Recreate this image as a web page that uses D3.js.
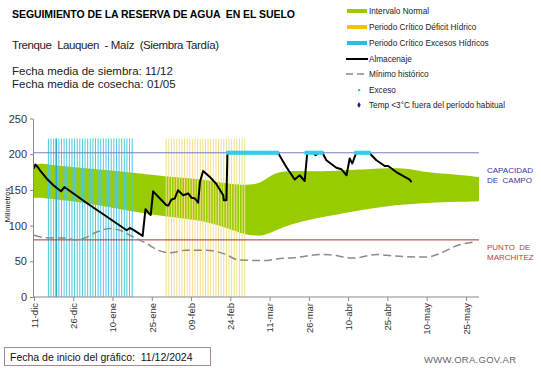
<!DOCTYPE html>
<html><head><meta charset="utf-8">
<script src="https://cdn.jsdelivr.net/npm/d3@7"></script>
<style>body{margin:0;background:#fff}svg{display:block}text{font-family:Arial,"Liberation Sans",sans-serif}</style>
</head><body>
<script>
// ---- data (day offsets from 11-dic-2024) ----
const tickDays = [0,15,30,45,60,75,90,105,120,135,150,165];
const tickLabels = ["11-dic","26-dic","10-ene","25-ene","09-feb","24-feb","11-mar","26-mar","10-abr","25-abr","10-may","25-may"];
const yTicks = [0,50,100,150,200,250];

const bandDays  = [0,2,5,12,25,38,50,63,70,76,80,85,88,92,99,106,112,124,137,143,150,162,170];
const bandUpper = [184,187,186,183,178.5,174,168.7,165.5,161,158,157,158,163,175,177,176,176,178.5,181,180,174,171.5,168];
const bandLower = [139,139,138,135.5,128.5,119,113,107.5,101,93.5,88,85.5,86,93,103,109,113,121.5,128.5,130,131.7,133.5,134];

const excessPeriodDays = d3.range(5.5, 38, 1);   // Periodo Crítico Excesos Hídricos
const deficitPeriodDays = d3.range(50.5, 81, 1); // Periodo Crítico Déficit Hídrico
const periodTop = 222;

const almDays = [0,0.5,1,2.3,4.8,7.4,10.3,11.6,20,28,35.4,36.6,38,41.5,42.6,43.9,44.6,45.5,50.6,51.3,52.5,53.8,55,57,58.9,60.2,61.5,62.7,63.4,64.6,67.2,69.7,72.3,72.5,73.5,73.9,93.2,96.4,99.6,101.5,103.4,104.4,106.6,107.6,108.9,110.2,111.7,115.5,117.4,119.4,120.6,121.6,123.1,128,130.8,134,135.3,138.4,143.5,144.2];
const almValues = [180,185.5,184,177.5,166,156.5,148,154,132,112,93.5,96.7,94,85.5,123,117,115,148,128.5,128,136.5,138,149.5,142.5,145,139,138,132,161,176.5,168,158,142.5,135.5,135.5,202,202,182,164.5,170.5,162.5,202,202,198.5,202,202,191.5,181,179,170.5,194,187,202,202,191.5,183.5,183.5,175,164.5,161];

const minDays = [0,4.8,12,16,18.8,24,29,32.8,37.9,43,47.4,52,58,66,73,78,88,94,99,110,113,122,131,137,150,154,162,168];
const minValues = [86.5,83,82.5,80,81.8,91,95.8,93.5,84,75,65.5,62,65.5,65.5,60,52,51,54,55,59.5,59,54.5,59.5,57.5,56,59.5,72.5,77];

const excesoDays = [].concat(d3.range(74,94), d3.range(104,108), d3.range(108,111), d3.range(123,129));
const capacidad = 202;
const marchitez = 80;

// ---- chart ----
const W = 541, H = 368;
const svg = d3.select("body").append("svg").attr("width", W).attr("height", H);
const x = d3.scaleLinear().domain([0,170]).range([34,479]);
const y = d3.scaleLinear().domain([0,250]).range([297,118.5]);

// titles
svg.append("text").attr("x",12).attr("y",18).attr("font-size",10.5).attr("font-weight","bold")
  .attr("xml:space","preserve").attr("textLength",283).text("SEGUIMIENTO DE LA RESERVA DE AGUA  EN EL SUELO");
svg.append("text").attr("x",12).attr("y",49).attr("font-size",11.5).attr("fill","#222")
  .attr("xml:space","preserve").attr("textLength",207).text("Trenque  Lauquen  - Maíz  (Siembra Tardía)");
svg.append("text").attr("x",12).attr("y",75).attr("font-size",11.5).attr("fill","#222").text("Fecha media de siembra: 11/12");
svg.append("text").attr("x",12).attr("y",88).attr("font-size",11.5).attr("fill","#222").text("Fecha media de cosecha: 01/05");

// green band
const area = d3.area().x((d,i)=>x(bandDays[i])).y0((d,i)=>y(bandLower[i])).y1((d,i)=>y(bandUpper[i])).curve(d3.curveBasis);
svg.append("path").datum(bandDays).attr("d",area).attr("fill","#99CC00");

// period lines
svg.append("g").selectAll("line").data(excessPeriodDays).join("line")
  .attr("x1",d=>x(d)).attr("x2",d=>x(d)).attr("y1",y(0)).attr("y2",y(periodTop))
  .attr("stroke","#4EC9E0").attr("stroke-width",1);
svg.append("line").attr("x1",x(8.5)).attr("x2",x(8.5)).attr("y1",y(0)).attr("y2",y(periodTop))
  .attr("stroke","#2AAFD0").attr("stroke-width",1.5);
svg.append("g").selectAll("line").data(deficitPeriodDays).join("line")
  .attr("x1",d=>x(d)).attr("x2",d=>x(d)).attr("y1",y(0)).attr("y2",y(periodTop))
  .attr("stroke","#F3E08C").attr("stroke-width",1);

// reference lines
svg.append("line").attr("x1",x(0)-1).attr("x2",x(170)).attr("y1",y(capacidad)).attr("y2",y(capacidad))
  .attr("stroke","#7080C0").attr("stroke-width",1);
svg.append("line").attr("x1",x(0)-1).attr("x2",x(170)).attr("y1",y(marchitez)).attr("y2",y(marchitez))
  .attr("stroke","#B03030").attr("stroke-width",1);

// minimo historico
const line = d3.line().x(d=>x(d[0])).y(d=>y(d[1]));
svg.append("path").datum(minDays.map((d,i)=>[d,minValues[i]])).attr("d",line.curve(d3.curveMonotoneX))
  .attr("fill","none").attr("stroke","#8a8a8a").attr("stroke-width",1.5).attr("stroke-dasharray","8,4");

// almacenaje
svg.append("path").datum(almDays.map((d,i)=>[d,almValues[i]])).attr("d",d3.line().x(d=>x(d[0])).y(d=>y(d[1])))
  .attr("fill","none").attr("stroke","#000").attr("stroke-width",2).attr("stroke-linejoin","round");

// exceso markers
svg.append("g").selectAll("rect").data(excesoDays).join("rect")
  .attr("x",d=>x(d)-1.7).attr("y",y(capacidad)-2).attr("width",3.4).attr("height",4)
  .attr("fill","#33CCEE");

// axes
const gx = svg.append("g").attr("transform",`translate(0,${y(0)})`)
  .call(d3.axisBottom(x).tickValues(tickDays).tickFormat((d,i)=>tickLabels[i]).tickSize(4).tickSizeOuter(0));
gx.select(".domain").attr("stroke","#888").attr("d",`M${x(0)-1},0H${x(170)}`);
gx.selectAll(".tick line").attr("stroke","#888");
gx.selectAll(".tick text").attr("font-size",9.5).attr("fill","#333")
  .attr("transform","rotate(-90)").attr("text-anchor","end").attr("dx","-6").attr("dy","0.35em").attr("y",0).attr("x",0)
  .attr("font-family","Arial,'Liberation Sans',sans-serif");
const gy = svg.append("g").attr("transform",`translate(${x(0)-1},0)`)
  .call(d3.axisLeft(y).tickValues(yTicks).tickSize(3).tickSizeOuter(0));
gy.select(".domain").attr("stroke","#888");
gy.selectAll(".tick line").attr("stroke","#888");
gy.selectAll(".tick text").attr("font-size",11).attr("fill","#333").attr("x",-6)
  .attr("font-family","Arial,'Liberation Sans',sans-serif");
svg.append("text").attr("transform","translate(9.5,205) rotate(-90)").attr("text-anchor","middle")
  .attr("font-size",7.5).attr("fill","#222").text("Milímetros");

// right labels
svg.append("text").attr("x",487).attr("y",173).attr("font-size",8).attr("fill","#3535A5").text("CAPACIDAD");
svg.append("text").attr("x",487).attr("y",183).attr("font-size",8).attr("fill","#3535A5").attr("xml:space","preserve").text("DE  CAMPO");
svg.append("text").attr("x",487).attr("y",250).attr("font-size",8).attr("fill","#C03A3A").attr("xml:space","preserve").text("PUNTO  DE");
svg.append("text").attr("x",487).attr("y",260).attr("font-size",8).attr("fill","#C03A3A").text("MARCHITEZ");

// legend
const lg = svg.append("g");
const items = [
  {t:"Intervalo Normal", k:"rect", c:"#99CC00", y:11},
  {t:"Periodo Crítico Déficit Hídrico", k:"rect", c:"#FFC000", y:27},
  {t:"Periodo Crítico Excesos Hídricos", k:"rect", c:"#22C0EE", y:43},
  {t:"Almacenaje", k:"line", c:"#000", y:59},
  {t:"Mínimo histórico", k:"dash", c:"#888", y:74},
  {t:"Exceso", k:"dot", c:"#22C8E8", y:90},
  {t:"Temp <3°C fuera del período habitual", k:"diamond", c:"#1A1A9A", y:105}
];
items.forEach(it=>{
  if(it.k==="rect") lg.append("rect").attr("x",347).attr("y",it.y-2).attr("width",20).attr("height",4).attr("fill",it.c);
  if(it.k==="line") lg.append("line").attr("x1",346).attr("x2",368).attr("y1",it.y).attr("y2",it.y).attr("stroke",it.c).attr("stroke-width",2);
  if(it.k==="dash") lg.append("line").attr("x1",346).attr("x2",368).attr("y1",it.y).attr("y2",it.y).attr("stroke",it.c).attr("stroke-width",1.5).attr("stroke-dasharray","7,4");
  if(it.k==="dot") lg.append("rect").attr("x",358).attr("y",it.y-1).attr("width",2.2).attr("height",2.2).attr("fill",it.c);
  if(it.k==="diamond") lg.append("path").attr("d",d3.symbol(d3.symbolDiamond,10)()).attr("transform",`translate(359,${it.y})`).attr("fill",it.c);
  lg.append("text").attr("x",369).attr("y",it.y+3).attr("font-size",8.2).attr("fill","#222").text(it.t);
});

// bottom box
svg.append("rect").attr("x",4.5).attr("y",347.5).attr("width",206).attr("height",18).attr("fill","#fff").attr("stroke","#A88A8A").attr("stroke-width",1);
svg.append("text").attr("x",10).attr("y",360.5).attr("font-size",10.5).attr("fill","#111")
  .attr("font-family","Lato,'Open Sans',sans-serif").attr("xml:space","preserve").text("Fecha de inicio del gráfico:  11/12/2024");
svg.append("text").attr("x",424).attr("y",363).attr("font-size",9.5).attr("fill","#666").attr("textLength",92).text("WWW.ORA.GOV.AR");
</script>
</body></html>
